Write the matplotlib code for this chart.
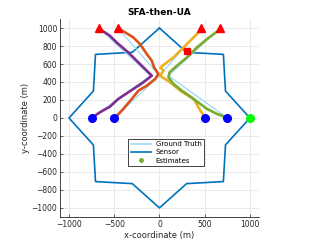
import matplotlib
matplotlib.use("Agg")
import matplotlib.pyplot as plt
from matplotlib.lines import Line2D

# sensor path (closed star)
sensor_x = [0, -300, -707, -730, -1000, -730, -707, -300, 0, 300, 707, 730, 1000, 730, 707, 300, 0]
sensor_y = [1000, 730, 707, 300, 0, -300, -707, -730, -1000, -730, -707, -300, 0, 300, 707, 730, 1000]

# ground truth tracks
gt_tracks = {
    'purple': ([-750, -100, -670], [0, 470, 1000]),
    'orange': ([-500, 0, -460], [0, 470, 1000]),
    'yellow': ([500, 390, 0, 460], [0, 200, 470, 1000]),
    'green': ([750, 100, 670], [0, 470, 1000]),
}

# estimated tracks
est_purple_x = [-749, -660, -548, -456, -289, -178, -85, -215, -345, -474, -548, -660]
est_purple_y = [0, 62, 125, 211, 322, 396, 470, 600, 729, 840, 914, 989]
est_orange_x = [-493, -400, -307, -233, -140, -48, -11, -59, -85, -140, -215, -289, -450]
est_orange_y = [0, 100, 211, 303, 359, 433, 489, 562, 637, 711, 822, 896, 995]
est_yellow_x = [508, 453, 378, 230, 119, 8, 45, 10, 82, 156, 249, 341, 416, 465]
est_yellow_y = [0, 81, 211, 303, 396, 470, 526, 560, 618, 674, 767, 859, 933, 1000]
est_green_x = [760, 638, 527, 378, 249, 156, 100, 111, 194, 305, 416, 527, 675]
est_green_y = [0, 44, 100, 211, 303, 378, 451, 507, 581, 674, 785, 878, 989]

start_x = [-750, -500, 500, 750]
start_y = [0, 0, 0, 0]
end_x = [-670, -460, 460, 670]
end_y = [1000, 1000, 1000, 1000]
sensor_start = (1000, 0)
marker_sq = (300, 740)

colors = {
    'purple': '#7E2F8E',
    'orange': '#D95319',
    'yellow': '#EDB120',
    'green': '#77AC30',
}
gt_color = '#9fd8f5'
sensor_color = '#0072BD'

plt.rcParams['font.family'] = 'DejaVu Sans'

fig = plt.figure(figsize=(3.09, 2.44), dpi=100)
ax = fig.add_axes([0.194, 0.111, 0.644, 0.811])

ax.plot(sensor_x, sensor_y, color=sensor_color, lw=1.2, zorder=2)

for name, (gx, gy) in gt_tracks.items():
    ax.plot(gx, gy, color=gt_color, lw=0.9, zorder=3)

est = {
    'purple': (est_purple_x, est_purple_y),
    'orange': (est_orange_x, est_orange_y),
    'yellow': (est_yellow_x, est_yellow_y),
    'green': (est_green_x, est_green_y),
}
for name, (ex, ey) in est.items():
    ax.plot(ex, ey, color=colors[name], lw=1.9, solid_capstyle='round',
            solid_joinstyle='round', zorder=4)

ax.plot(start_x, start_y, 'o', color='#0000FF', ms=5.5, zorder=5)
ax.plot(end_x, end_y, '^', color='#FF0000', ms=5.5, zorder=5)
ax.plot([sensor_start[0]], [sensor_start[1]], 'o', color='#00FF00', ms=5.5, zorder=5)
ax.plot([marker_sq[0]], [marker_sq[1]], 's', color='#FF0000', ms=4, zorder=5)

ax.set_xlim(-1100, 1100)
ax.set_ylim(-1100, 1100)
ax.set_xticks([-1000, -500, 0, 500, 1000])
ax.set_yticks(range(-1000, 1001, 200))
ax.grid(True, color='#e6e6e6', lw=0.6)
ax.set_axisbelow(True)
for s in ['top', 'right']:
    ax.spines[s].set_visible(False)
for s in ['left', 'bottom']:
    ax.spines[s].set_color('#262626')
    ax.spines[s].set_linewidth(0.6)
ax.tick_params(direction='in', length=2, width=0.5, labelsize=5.5, colors='#262626', pad=2)

ax.set_xlabel('x-coordinate (m)', fontsize=6, color='#262626', labelpad=2)
ax.set_ylabel('y-coordinate (m)', fontsize=6, color='#262626', labelpad=1)
ax.set_title('SFA-then-UA', fontsize=6.5, fontweight='bold', pad=3)

handles = [
    Line2D([], [], color=gt_color, lw=1.2),
    Line2D([], [], color=sensor_color, lw=1.2),
    Line2D([], [], color=colors['green'], marker='o', ms=2.5, lw=0),
]
leg = ax.legend(handles, ['Ground Truth', 'Sensor', 'Estimates'], fontsize=5,
                loc='upper left', bbox_to_anchor=(0.327, 0.41), fancybox=False,
                framealpha=1, edgecolor='#262626', handlelength=3,
                borderpad=0.3, labelspacing=0.3, handletextpad=0.6)
leg.get_frame().set_linewidth(0.6)

fig.savefig('out.png', dpi=100)
